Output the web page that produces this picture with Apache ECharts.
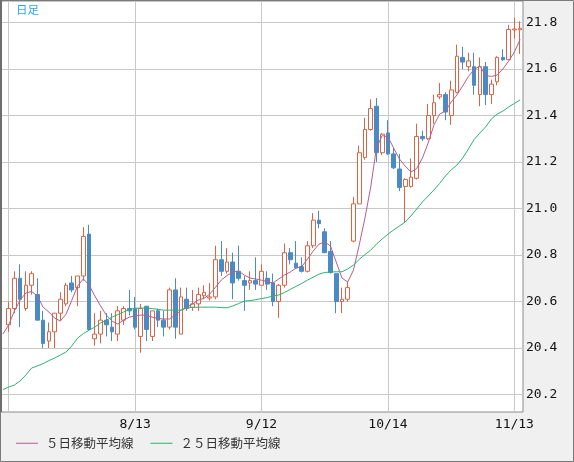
<!DOCTYPE html>
<html><head><meta charset="utf-8">
<script src="https://cdn.jsdelivr.net/npm/echarts@6/dist/echarts.min.js"></script>
<style>html,body{margin:0;padding:0;background:#f0f0f0}#c{width:574px;height:462px}</style>
</head><body><div id="c"></div>
<script>
const chartTitle = '日足';
const seriesNames = ['５日移動平均線', '２５日移動平均線'];
const dates = ['7/11','7/14','7/15','7/16','7/17','7/18','7/21','7/22','7/23','7/24','7/25','7/28','7/29','7/30','7/31','8/1','8/4','8/5','8/6','8/7','8/8','8/11','8/12','8/13','8/14','8/15','8/18','8/19','8/20','8/21','8/22','8/25','8/26','8/27','8/28','8/29','9/1','9/2','9/3','9/4','9/5','9/8','9/9','9/10','9/11','9/12','9/15','9/16','9/17','9/18','9/19','9/22','9/23','9/24','9/25','9/26','9/29','9/30','10/1','10/2','10/3','10/6','10/7','10/8','10/9','10/10','10/13','10/14','10/15','10/16','10/17','10/20','10/21','10/22','10/23','10/24','10/27','10/28','10/29','10/30','10/31','11/3','11/4','11/5','11/6','11/7','11/10','11/11','11/12','11/13','11/14'];
const xTickLabels = ['8/13', '9/12', '10/14', '11/13'];
const xGridDates = ['7/14', '8/13', '9/12', '10/14', '11/13'];
const yTicks = [20.2, 20.4, 20.6, 20.8, 21.0, 21.2, 21.4, 21.6, 21.8];
// [open, close, low, high] for 7/14 .. 11/14
const ohlc = [
[20.50,20.57,20.47,20.60],[20.57,20.70,20.55,20.73],[20.70,20.61,20.49,20.76],[20.57,20.67,20.56,20.73],[20.67,20.72,20.63,20.73],
[20.63,20.52,20.52,20.70],[20.52,20.42,20.40,20.56],[20.43,20.47,20.40,20.51],[20.47,20.55,20.40,20.55],[20.55,20.61,20.52,20.64],
[20.59,20.67,20.58,20.68],[20.68,20.65,20.64,20.71],[20.66,20.71,20.58,20.71],[20.71,20.88,20.69,20.92],[20.89,20.48,20.48,20.93],
[20.44,20.46,20.41,20.55],[20.46,20.52,20.42,20.56],[20.52,20.50,20.45,20.55],[20.49,20.47,20.43,20.55],[20.46,20.56,20.43,20.58],
[20.52,20.57,20.50,20.58],[20.57,20.56,20.54,20.65],[20.57,20.49,20.48,20.62],[20.45,20.57,20.38,20.59],[20.58,20.48,20.43,20.58],
[20.45,20.56,20.43,20.56],[20.56,20.52,20.49,20.57],[20.52,20.49,20.45,20.56],[20.49,20.65,20.48,20.66],[20.65,20.49,20.44,20.70],
[20.46,20.62,20.46,20.66],[20.61,20.57,20.56,20.66],[20.575,20.59,20.56,20.65],[20.59,20.63,20.56,20.66],[20.625,20.64,20.61,20.67],
[20.615,20.62,20.605,20.68],[20.62,20.78,20.61,20.84],[20.78,20.73,20.71,20.86],[20.73,20.77,20.72,20.83],[20.77,20.68,20.61,20.81],
[20.73,20.70,20.69,20.84],[20.69,20.67,20.56,20.71],[20.68,20.69,20.65,20.73],[20.69,20.675,20.65,20.79],[20.67,20.73,20.67,20.76],
[20.70,20.675,20.65,20.73],[20.68,20.60,20.58,20.72],[20.60,20.67,20.53,20.675],[20.67,20.81,20.66,20.85],[20.81,20.78,20.76,20.83],
[20.765,20.745,20.74,20.86],[20.75,20.73,20.725,20.79],[20.73,20.84,20.725,20.86],[20.84,20.95,20.83,20.98],[20.95,20.935,20.915,20.99],
[20.90,20.81,20.81,20.915],[20.815,20.725,20.72,20.86],[20.72,20.60,20.55,20.72],[20.60,20.61,20.55,20.66],[20.61,20.66,20.60,20.685],
[20.86,21.02,20.855,21.05],[21.02,21.24,21.02,21.27],[21.22,21.34,21.21,21.39],[21.34,21.43,21.335,21.47],[21.44,21.24,21.20,21.475],
[21.24,21.32,21.23,21.325],[21.325,21.235,21.23,21.38],[21.235,21.175,21.17,21.26],[21.17,21.09,21.075,21.235],[21.095,21.125,20.94,21.13],
[21.095,21.135,21.09,21.215],[21.13,21.31,21.125,21.365],[21.31,21.30,21.29,21.335],[21.30,21.40,21.295,21.45],[21.40,21.455,21.365,21.49],
[21.48,21.49,21.47,21.54],[21.49,21.415,21.38,21.50],[21.40,21.51,21.36,21.55],[21.50,21.655,21.495,21.705],[21.65,21.63,21.60,21.695],
[21.61,21.635,21.59,21.67],[21.61,21.53,21.49,21.67],[21.49,21.61,21.44,21.65],[21.61,21.49,21.445,21.63],[21.49,21.535,21.45,21.555],
[21.545,21.65,21.53,21.655],[21.65,21.64,21.635,21.685],[21.64,21.77,21.64,21.79],[21.768,21.772,21.73,21.82],[21.769,21.775,21.665,21.805]
];
// moving averages, 7/11 .. 11/14
const ma5 = [20.460,20.499,20.559,20.606,20.637,20.643,20.624,20.576,20.555,20.529,
20.516,20.546,20.606,20.667,20.697,20.671,20.624,20.581,20.542,20.516,
20.503,20.520,20.533,20.538,20.542,20.540,20.533,20.527,20.525,20.525,
20.542,20.563,20.576,20.589,20.606,20.614,20.632,20.662,20.692,20.712,
20.727,20.731,20.714,20.701,20.697,20.692,20.686,20.680,20.697,20.714,
20.727,20.744,20.750,20.783,20.817,20.847,20.857,20.839,20.770,20.701,
20.684,20.735,20.843,20.959,21.092,21.260,21.314,21.308,21.260,21.213,
21.183,21.157,21.172,21.217,21.282,21.359,21.406,21.419,21.458,21.488,
21.527,21.568,21.598,21.613,21.572,21.568,21.574,21.600,21.634,21.673,
21.727];
const ma25 = [20.221,20.232,20.241,20.258,20.284,20.314,20.323,20.333,20.346,20.357,
20.370,20.383,20.409,20.443,20.462,20.477,20.490,20.508,20.520,20.533,
20.544,20.555,20.566,20.571,20.572,20.572,20.570,20.566,20.563,20.563,
20.563,20.563,20.572,20.575,20.576,20.576,20.576,20.576,20.574,20.573,
20.581,20.591,20.602,20.604,20.608,20.613,20.617,20.624,20.628,20.639,
20.652,20.665,20.678,20.692,20.705,20.718,20.725,20.727,20.728,20.728,
20.740,20.757,20.781,20.802,20.821,20.847,20.869,20.890,20.908,20.925,
20.942,20.968,20.998,21.028,21.054,21.080,21.108,21.140,21.166,21.187,
21.217,21.256,21.297,21.325,21.351,21.385,21.406,21.419,21.437,21.452,
21.467];

const UP = '#dc6444', DOWN = '#4a8bc6', C5 = '#b55e8c', C25 = '#2db36e';
const candleData = ['-'].concat(ohlc);
const mono = "'DejaVu Sans Mono', 'Liberation Mono', monospace";
const jp = "'Noto Sans CJK JP', sans-serif";

const chart = echarts.init(document.getElementById('c'), null, {renderer: 'canvas'});
chart.setOption({
  animation: false,
  backgroundColor: '#f0f0f0',
  title: {text: chartTitle, left: 11, top: -1, textStyle: {fontSize: 11.5, fontWeight: 'normal', color: '#2aa8e4', fontFamily: jp}},
  legend: {
    data: seriesNames, left: 11, top: 432, icon: 'rect', itemWidth: 22, itemHeight: 1, itemGap: 17,
    selectedMode: false,
    textStyle: {fontSize: 12.5, color: '#333', fontFamily: jp, padding: [0, 0, 0, 3]}
  },
  grid: {left: -0.6, right: 51, top: 1, bottom: 50, show: true, backgroundColor: '#ffffff', borderColor: '#8c8c8c', borderWidth: 1},
  xAxis: {
    type: 'category', data: dates, boundaryGap: true,
    axisLine: {show: false}, axisTick: {show: false}, splitLine: {show: false},
    axisLabel: {interval: (i, v) => xTickLabels.includes(v), margin: 6, fontFamily: mono, fontSize: 13, color: '#111'}
  },
  yAxis: {
    type: 'value', position: 'right', min: 20.125, max: 21.8925,
    axisLine: {show: false},
    axisTick: {show: false, customValues: yTicks},
    axisLabel: {customValues: yTicks, formatter: v => v.toFixed(1), margin: 3, fontFamily: mono, fontSize: 13, color: '#111'},
    splitLine: {show: true, lineStyle: {color: '#c8c8c8', width: 1}}
  },
  graphic: [{type: 'rect', silent: true, z: 100, shape: {x: 0.5, y: 0.5, width: 573, height: 461}, style: {fill: 'none', stroke: '#7a7a7a', lineWidth: 1}},
            {type: 'line', silent: true, z: 100, shape: {x1: 1, y1: 0, x2: 1, y2: 412}, style: {stroke: '#6e6e6e', lineWidth: 2}}],
  series: [
    {
      type: 'candlestick', data: candleData, barWidth: 4.2, silent: true, z: 2,
      itemStyle: {color: '#ffffff', color0: DOWN, borderColor: UP, borderColor0: DOWN, borderWidth: 1}
    },
    {
      name: seriesNames[0], type: 'line', data: ma5, symbol: 'none', silent: true, z: 3,
      color: C5, lineStyle: {color: C5, width: 1}
    },
    {
      name: seriesNames[1], type: 'line', data: ma25, symbol: 'none', silent: true, z: 3,
      color: C25, lineStyle: {color: C25, width: 1},
      markLine: {
        silent: true, symbol: 'none', z: 1, animation: false,
        label: {show: false}, lineStyle: {color: '#c8c8c8', width: 1, type: 'solid'},
        emphasis: {disabled: true},
        data: xGridDates.map(d => ({xAxis: d}))
      }
    }
  ]
});
</script></body></html>
